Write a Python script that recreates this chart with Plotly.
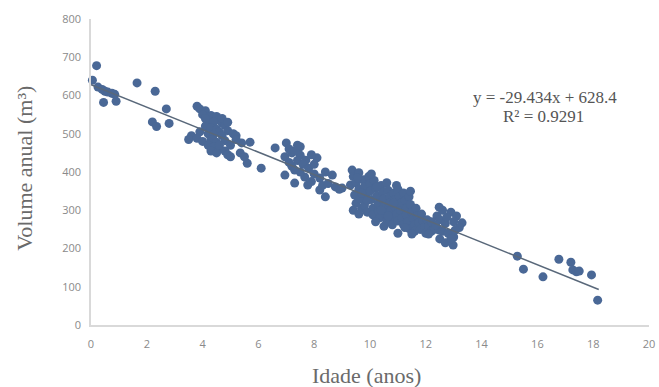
import plotly.graph_objects as go

# Stand age (years) and annual volume (m³) of each sampled plot
age = [
    0.05, 0.2, 0.25, 0.4, 0.5, 0.6, 0.75, 0.85, 0.45, 0.9, 1.65, 2.3, 2.2, 2.35, 2.7, 2.8,
    3.8, 3.9, 4.1, 4.0, 4.3, 4.5, 4.6, 4.2, 4.4, 4.7, 4.8, 4.1, 4.3, 4.5, 4.6, 4.9, 4.2, 4.4,
    4.7, 3.9, 3.6, 3.5, 3.8, 4.0, 4.3, 4.5, 4.8, 4.2, 4.4, 4.6, 4.3, 4.5, 4.8, 4.9, 5.0, 4.6,
    5.0, 5.1, 5.2, 4.1, 4.7, 4.9,
    5.4, 5.7, 5.35, 5.6, 6.1, 6.6, 5.5, 5.2,
    7.0, 7.5, 6.95, 7.2, 7.5, 7.7, 8.1, 6.95, 7.3, 7.66, 7.77, 8.2, 8.2, 8.4, 8.65, 8.76,
    7.1, 7.3, 7.4, 7.6, 7.2, 7.5, 7.8, 8.0, 7.9, 8.3, 8.5, 8.9, 9.0, 7.4, 7.1, 7.3, 7.9,
    8.0, 8.4,
    9.36, 9.3, 9.4, 9.5, 9.45, 9.5, 9.6, 9.6, 9.65, 9.7, 9.75, 9.8, 9.85, 9.8, 9.9, 9.95,
    10.0, 10.0, 10.05, 10.1, 10.1, 10.15, 10.2, 10.25, 10.3, 10.3, 10.35, 10.4, 10.45, 10.5,
    10.5, 10.55, 10.6, 10.6, 10.65, 10.7, 10.7, 10.75, 10.8, 10.8, 10.85, 10.9, 10.9, 10.95,
    11.0, 11.0, 11.05, 11.1, 11.1, 11.15, 11.2, 11.2, 11.25, 11.3, 11.3, 11.35, 11.4, 11.4,
    11.45, 11.5, 11.55, 11.6, 11.6, 11.65, 11.7, 11.75, 11.8, 11.85, 11.9, 11.95, 12.0,
    12.05, 12.1, 12.2, 9.55, 9.7, 9.9, 10.05, 10.25, 10.4, 10.65, 10.85, 11.0, 11.25, 9.4,
    9.6, 10.2, 10.5, 11.5, 11.45, 10.95,
    12.4, 12.48, 12.6, 12.9, 13.1, 13.3, 12.2, 12.5, 12.7, 13.0, 13.2, 12.3, 12.48, 12.6,
    12.8, 13.0, 12.5, 12.7, 12.98, 12.1, 12.35, 12.75, 13.05, 12.9,
    15.28, 15.5, 16.2, 16.77, 17.2, 17.27, 17.4, 17.5, 17.94, 18.16,
]
volume = [
    640, 678, 622, 616, 611, 609, 606, 603, 582, 585, 633, 611, 531, 519, 565, 527,
    572, 565, 560, 550, 548, 545, 538, 535, 530, 528, 522, 520, 515, 512, 505, 508, 500, 498,
    495, 505, 495, 485, 488, 480, 485, 478, 482, 470, 465, 462, 455, 450, 455, 445, 440, 470,
    470, 500, 495, 540, 540, 530,
    476, 478, 450, 423, 410, 463, 440, 485,
    476, 466, 440, 450, 444, 431, 437, 392, 371, 387, 366, 384, 353, 335, 392, 361,
    460, 455, 430, 420, 415, 400, 410, 395, 375, 365, 370, 355, 358, 470, 425, 405, 445,
    420, 400,
    405, 366, 388, 372, 340, 318, 398, 355, 330, 305, 380, 362, 342, 312, 295, 388,
    370, 350, 328, 305, 288, 378, 358, 338, 318, 298, 280, 365, 348, 330,
    310, 292, 372, 272, 352, 335, 318, 300, 282, 262, 345, 328, 308, 290,
    355, 272, 335, 318, 298, 280, 262, 345, 325, 305, 288, 270, 252, 335,
    315, 295, 278, 262, 245, 305, 285, 268, 250, 290, 272, 255, 240,
    275, 258, 245, 385, 345, 325, 395, 362, 300, 285, 318, 240, 255, 300,
    290, 270, 258, 238, 350, 365,
    285, 308, 300, 295, 285, 267, 270, 275, 265, 270, 255, 250, 248, 245,
    240, 230, 225, 215, 209, 238, 262, 282, 248, 225,
    180, 146, 126, 172, 164, 144, 139, 141, 131, 65,
]

# Linear trend fitted to the data
slope = -29.434
intercept = 628.4
trend_x = [0, 18.2]
trend_y = [intercept + slope * v for v in trend_x]

x_ticks = [0, 2, 4, 6, 8, 10, 12, 14, 16, 18, 20]
y_ticks = [0, 100, 200, 300, 400, 500, 600, 700, 800]

fig = go.Figure()
fig.add_trace(go.Scatter(
    x=age, y=volume, mode="markers",
    marker=dict(size=9, color="#4a6896", line=dict(width=0)),
    cliponaxis=False, showlegend=False,
))
fig.add_trace(go.Scatter(
    x=trend_x, y=trend_y, mode="lines",
    line=dict(color="#59687a", width=1.5),
    showlegend=False,
))

tick_font = dict(family="Open Sans", size=11, color="#8a8a8a")
serif = "Liberation Serif"

fig.update_layout(
    width=659, height=387,
    margin=dict(l=91, r=4, t=19, b=62),
    paper_bgcolor="white", plot_bgcolor="white",
    xaxis=dict(
        range=[0, 20], tickvals=x_ticks, showgrid=False, zeroline=False,
        showline=True, linecolor="#d9d9d9", linewidth=1.5, ticks="",
        tickfont=tick_font, ticklabelstandoff=8, ticklabeloverflow="allow",
    ),
    yaxis=dict(
        range=[0, 800], tickvals=y_ticks, showgrid=False, zeroline=False,
        showline=True, linecolor="#d9d9d9", linewidth=1.5, ticks="",
        tickfont=tick_font, ticklabelstandoff=6,
    ),
    annotations=[
        dict(text="y = -29.434x + 628.4", x=550, y=97, showarrow=False,
             font=dict(family=serif, size=17, color="#555555")),
        dict(text="R² = 0.9291", x=548, y=117, showarrow=False,
             font=dict(family=serif, size=17, color="#555555")),
        dict(text="Idade (anos)", x=369, y=375, showarrow=False,
             font=dict(family=serif, size=22, color="#6a6a6a")),
        dict(text="Volume anual (m³)", x=23, y=168, showarrow=False, textangle=-90,
             font=dict(family=serif, size=22, color="#6a6a6a")),
    ],
)

# Place the text annotations in pixel positions of the page
W, H = 659, 387
for ann in fig.layout.annotations:
    px, py = ann.x, ann.y
    ann.xref = "paper"
    ann.yref = "paper"
    ann.x = (px - 91) / (W - 91 - 4)
    ann.y = (H - 62 - py) / (H - 19 - 62)
    ann.xanchor = "center"
    ann.yanchor = "middle"

fig.write_html("out.html")
